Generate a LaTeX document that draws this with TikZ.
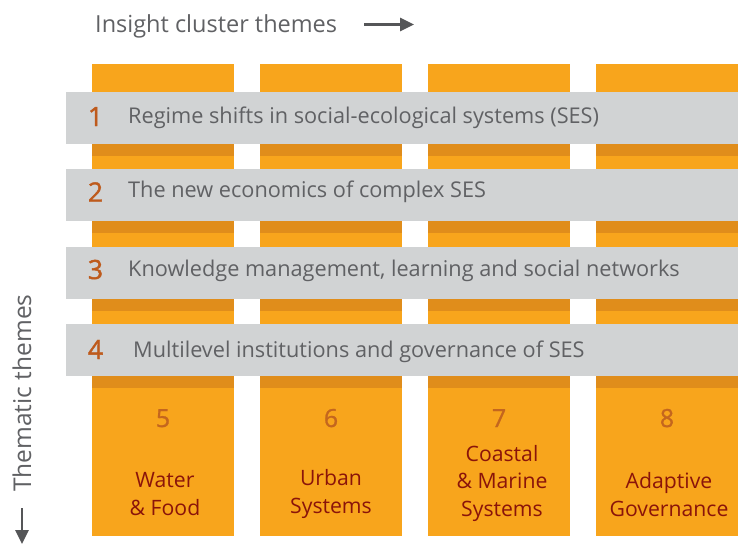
\documentclass[tikz,border=0pt]{standalone}
\usepackage{fontspec}
\setmainfont{Open Sans}
\newfontfamily\numfont[FakeBold=1.6]{Open Sans}
\newfontfamily\colnumfont[FakeBold=1.0]{Open Sans}
\usetikzlibrary{arrows.meta}
\definecolor{colorange}{HTML}{F8A51C}
\definecolor{colstrip}{HTML}{E08D1B}
\definecolor{bandgray}{HTML}{D1D3D4}
\definecolor{labelgray}{HTML}{606164}
\definecolor{axisgray}{HTML}{555658}
\definecolor{bandnum}{HTML}{BE5A1C}
\definecolor{colnum}{HTML}{C4661E}
\definecolor{collabel}{HTML}{8A140A}
\tikzset{
  column/.style={fill=colorange, draw=none},
  strip/.style={fill=colstrip, draw=none},
  band/.style={fill=bandgray, draw=none},
  bandtext/.style={anchor=base west, inner sep=0pt, text=labelgray,
    font=\fontsize{21.7}{26}\selectfont},
  bandno/.style={anchor=base, inner sep=0pt, text=bandnum,
    font=\numfont\fontsize{26.5}{30}\selectfont},
  colno/.style={anchor=base, inner sep=0pt, text=colnum,
    font=\colnumfont\fontsize{25}{30}\selectfont},
  coltext/.style={anchor=base, inner sep=0pt, text=collabel, align=center,
    font=\fontsize{21.2}{27.5}\selectfont},
  axistext/.style={inner sep=0pt, text=labelgray},
  axisarrow/.style={draw=axisgray, line width=2.6pt,
    -{Triangle[length=14pt,width=13pt]}},
}
\begin{document}
\begin{tikzpicture}[x=1pt, y=-1pt]
  \useasboundingbox (0,0) rectangle (738,544);

  % insight cluster columns
  \foreach \i/\x in {1/92, 2/260, 3/428, 4/596} {
    \fill[column] (\x,64) rectangle ++(142,472);
    \foreach \t in {92, 169.3, 246.7, 324} {
      \fill[strip] (\x,\t+52) rectangle ++(142,12);
    }
  }

  % thematic bands
  \foreach \t in {92, 169.3, 246.7, 324} {
    \fill[band] (66,\t) rectangle (738,\t+52);
  }

  \node[bandno] (n1) at (95.5,126) {1};
  \node[bandtext] (t1) at (128,123) {Regime shifts in social-ecological systems (SES)};
  \node[bandno] (n2) at (95.5,201.5) {2};
  \node[bandtext] (t2) at (128,197) {The new economics of complex SES};
  \node[bandno] (n3) at (95.5,279) {3};
  \node[bandtext] (t3) at (128,276) {Knowledge management, learning and social networks};
  \node[bandno] (n4) at (95.5,359) {4};
  \node[bandtext] (t4) at (133,357) {Multilevel institutions and governance of SES};

  % column numbers and titles (base anchor sits on the last line)
  \node[colno] (c5) at (163,427) {5};
  \node[colno] (c6) at (331,427) {6};
  \node[colno] (c7) at (499,427) {7};
  \node[colno] (c8) at (667,427) {8};
  \node[coltext] (w5) at (165,515) {Water\\\& Food};
  \node[coltext] (w6) at (331,513) {Urban\\Systems};
  \node[coltext] (w7) at (502,516) {Coastal\\\& Marine\\Systems};
  \node[coltext] (w8) at (669,516) {Adaptive\\Governance};

  % axes
  \node[axistext, anchor=base west, font=\fontsize{23.5}{28}\selectfont]
    (xlab) at (95,32) {Insight cluster themes};
  \coordinate (xa) at (364,24.5);
  \coordinate (xb) at (414,24.5);
  \draw[axisarrow] (xa) -- (xb);

  \node[axistext, anchor=base west, rotate=90, font=\fontsize{24.5}{28}\selectfont]
    (ylab) at (31,492) {Thematic themes};
  \coordinate (ya) at (22,508);
  \coordinate (yb) at (22,544);
  \draw[axisarrow] (ya) -- (yb);
\end{tikzpicture}
\end{document}
